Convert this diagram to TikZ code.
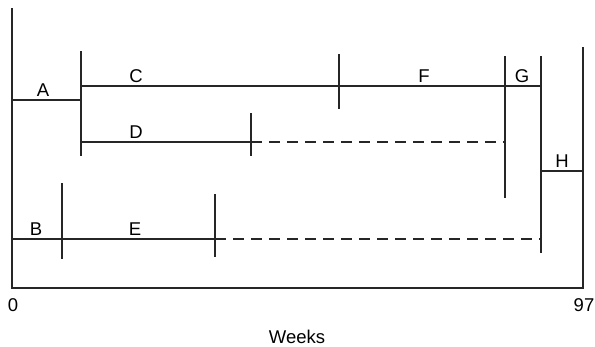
\documentclass[tikz,border=0pt]{standalone}
\usepackage{fontspec}
\setmainfont{Liberation Sans}
\usepackage{tikz}

\tikzset{
  bar/.style={line width=1.1pt, color=black!85},
  slack/.style={bar, dash pattern=on 11pt off 7pt},
  act/.style={anchor=base, inner sep=0pt, font=\fontsize{18.5}{22}\selectfont},
}

\begin{document}
\begin{tikzpicture}[x=1pt, y=-1pt]
    \useasboundingbox (0,0) rectangle (595,346);

    % time axis
    \coordinate (top0) at (12,8);
    \coordinate (o) at (12,288);
    \coordinate (end) at (583,288);
    \coordinate (top97) at (583,47);
    \draw[bar] (top0) -- (o) -- (end) -- (top97);

    % event lines
    \foreach \x/\ya/\yb [count=\i] in {81/51/156, 339/54/109, 251/113/156, 505/56/198,
                                        541/56/253, 62/183/259, 215/194/257}{
        \coordinate (ev\i a) at (\x,\ya);
        \coordinate (ev\i b) at (\x,\yb);
        \draw[bar] (ev\i a) -- (ev\i b);
    }

    % activities
    \coordinate (a0) at (12,100);  \coordinate (a1) at (81,100);
    \coordinate (c0) at (81,86);   \coordinate (c1) at (339,86);
    \coordinate (f1) at (505,86);  \coordinate (g1) at (541,86);
    \coordinate (d0) at (81,142);  \coordinate (d1) at (251,142);
    \coordinate (d2) at (505,142);
    \coordinate (h0) at (541,171); \coordinate (h1) at (583,171);
    \coordinate (b0) at (12,239);  \coordinate (b1) at (62,239);
    \coordinate (e1) at (215,239); \coordinate (e2) at (541,239);

    \draw[bar] (a0) -- (a1);
    \draw[bar] (c0) -- (c1) -- (f1) -- (g1);
    \draw[bar] (d0) -- (d1);
    \draw[slack] (d1) -- (d2);
    \draw[bar] (h0) -- (h1);
    \draw[bar] (b0) -- (b1) -- (e1);
    \draw[slack] (e1) -- (e2);

    % labels
    \foreach \coord/\name/\txt in {
        {43,96.5}/lA/A, {136,82.5}/lC/C, {424,82.5}/lF/F, {522,82.5}/lG/G,
        {136,138.5}/lD/D, {562,167.5}/lH/H, {36,235.5}/lB/B, {135,235.5}/lE/E,
        {13,311}/lzero/0, {584,311}/lend/97, {297,343}/lweeks/Weeks
    }{
        \node[act] (\name) at (\coord) {\txt};
    }

\end{tikzpicture}
\end{document}
